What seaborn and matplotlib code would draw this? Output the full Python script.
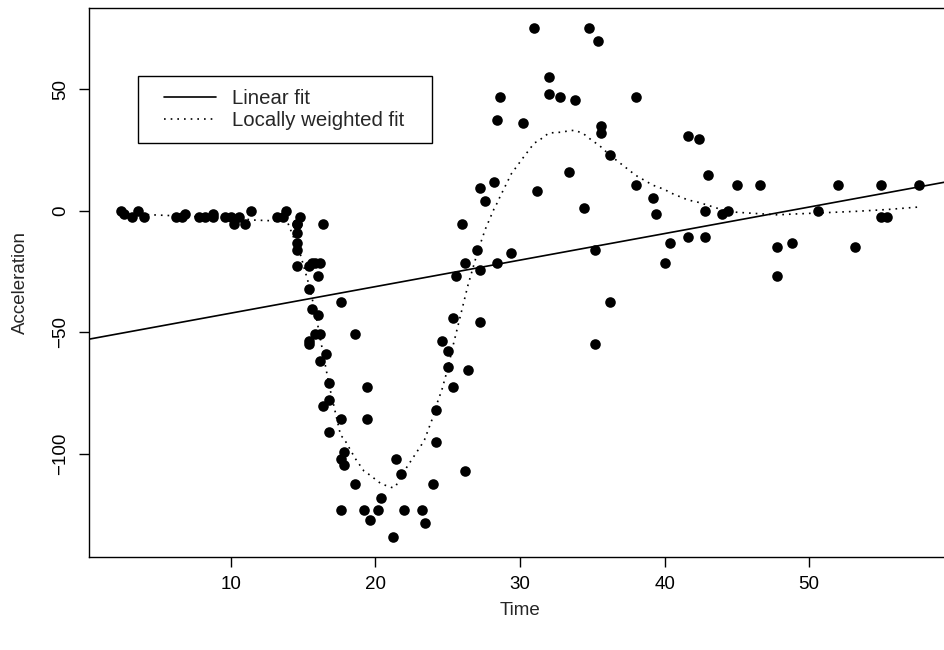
import numpy as np
import pandas as pd
import matplotlib
matplotlib.use('Agg')
import matplotlib.pyplot as plt
from matplotlib.lines import Line2D
from matplotlib.legend_handler import HandlerLine2D
import seaborn as sns

# motorcycle crash data (times in ms, head acceleration in g)
times = [2.4, 2.6, 3.2, 3.6, 4.0, 6.2, 6.6, 6.8, 7.8, 8.2,
         8.8, 8.8, 9.6, 10.0, 10.2, 10.6, 11.0, 11.4, 13.2, 13.6,
         13.8, 14.6, 14.6, 14.6, 14.6, 14.6, 14.6, 14.8, 15.4, 15.4,
         15.4, 15.4, 15.6, 15.6, 15.8, 15.8, 16.0, 16.0, 16.2, 16.2,
         16.2, 16.4, 16.4, 16.6, 16.8, 16.8, 16.8, 17.6, 17.6, 17.6,
         17.6, 17.8, 17.8, 18.6, 18.6, 19.2, 19.4, 19.4, 19.6, 20.2,
         20.4, 21.2, 21.4, 21.8, 22.0, 23.2, 23.4, 24.0, 24.2, 24.2,
         24.6, 25.0, 25.0, 25.4, 25.4, 25.6, 26.0, 26.2, 26.2, 26.4,
         27.0, 27.2, 27.2, 27.2, 27.6, 28.2, 28.4, 28.4, 28.6, 29.4,
         30.2, 31.0, 31.2, 32.0, 32.0, 32.8, 33.4, 33.8, 34.4, 34.8,
         35.2, 35.2, 35.4, 35.6, 35.6, 36.2, 36.2, 38.0, 38.0, 39.2,
         39.4, 40.0, 40.4, 41.6, 41.6, 42.4, 42.8, 42.8, 43.0, 44.0,
         44.4, 45.0, 46.6, 47.8, 47.8, 48.8, 50.6, 52.0, 53.2, 55.0,
         55.0, 55.4, 57.6]
accel = [0.0, -1.3, -2.7, 0.0, -2.7, -2.7, -2.7, -1.3, -2.7, -2.7,
         -1.3, -2.7, -2.7, -2.7, -5.4, -2.7, -5.4, 0.0, -2.7, -2.7,
         0.0, -13.3, -5.4, -5.4, -9.3, -16.0, -22.8, -2.7, -22.8, -32.1,
         -53.5, -54.9, -40.2, -21.5, -21.5, -50.8, -42.9, -26.8, -21.5, -50.8,
         -61.7, -5.4, -80.4, -59.0, -71.0, -91.1, -77.7, -37.5, -85.6, -123.1,
         -101.9, -99.1, -104.4, -112.5, -50.8, -123.1, -85.6, -72.3, -127.2, -123.1,
         -117.9, -134.0, -101.9, -108.4, -123.1, -123.1, -128.5, -112.5, -95.1, -81.8,
         -53.5, -64.4, -57.6, -72.3, -44.3, -26.8, -5.4, -107.1, -21.5, -65.6,
         -16.0, -45.6, -24.2, 9.5, 4.0, 12.0, -21.5, 37.5, 46.9, -17.4,
         36.2, 75.0, 8.1, 54.9, 48.2, 46.9, 16.0, 45.6, 1.3, 75.0,
         -16.0, -54.9, 69.6, 34.8, 32.1, -37.5, 22.8, 46.9, 10.7, 5.4,
         -1.3, -21.5, -13.3, 30.8, -10.7, 29.4, 0.0, -10.7, 14.7, -1.3,
         0.0, 10.7, 10.7, -26.8, -14.7, -13.3, 0.0, 10.7, -14.7, -2.7,
         10.7, -2.7, 10.7]

x_ticks = [10, 20, 30, 40, 50]
y_ticks = [50, 0, -50, -100]
smooth_span = 0.2


def lowess(x, y, f=2/3, iters=3):
    # plain version of R's lowess (no delta shortcut)
    x = np.asarray(x, float)
    y = np.asarray(y, float)
    n = len(x)
    ns = max(2, min(n, int(f * n + 1e-7)))
    rw = np.ones(n)
    fit = np.zeros(n)
    for it in range(iters + 1):
        for i in range(n):
            d = np.abs(x - x[i])
            h = np.sort(d)[ns - 1]
            if h > 0:
                u = d / h
                w = np.where(u < 1, (1 - u ** 3) ** 3, 0.0)
            else:
                w = (d == 0).astype(float)
            w = w * rw
            sw = w.sum()
            xm = (w * x).sum() / sw
            ym = (w * y).sum() / sw
            sxx = (w * (x - xm) ** 2).sum()
            if sxx > 1e-12 * (x.max() - x.min()) ** 2:
                b = (w * (x - xm) * (y - ym)).sum() / sxx
            else:
                b = 0.0
            fit[i] = ym + b * (x[i] - xm)
        if it == iters:
            break
        res = y - fit
        s = np.median(np.abs(res))
        if s == 0:
            break
        u = res / (6 * s)
        rw = np.where(np.abs(u) < 1, (1 - u ** 2) ** 2, 0.0)
    return x, fit


df = pd.DataFrame({'times': times, 'accel': accel})
order = np.argsort(df['times'].values, kind='stable')
lx, ly = lowess(df['times'].values[order], df['accel'].values[order], f=smooth_span)
slope, intercept = np.polyfit(df['times'], df['accel'], 1)

sns.set_style('ticks')
plt.rcParams['font.family'] = ['Liberation Sans', 'DejaVu Sans']
fs = 13.5
fs_leg = 14.7

fig = plt.figure(figsize=(9.45, 6.5), dpi=100)
ax = fig.add_axes([89 / 945, 1 - 557 / 650, 862 / 945, 549 / 650])

sns.scatterplot(data=df, x='times', y='accel', ax=ax, color='black',
                s=58, edgecolor='black', linewidth=0, zorder=3)
ax.axline((0, intercept), slope=slope, color='black', lw=1.2,
          label='Linear fit')
sns.lineplot(x=lx, y=ly, ax=ax, color='black', lw=1.2, estimator=None,
             sort=False, linestyle=(0, (1, 3)), label='Locally weighted fit')

xr = max(times) - min(times)
yr = max(accel) - min(accel)
ax.set_xlim(min(times) - 0.04 * xr, max(times) + 0.04 * xr)
ax.set_ylim(min(accel) - 0.04 * yr, max(accel) + 0.04 * yr)
ax.set_xticks(x_ticks)
ax.set_yticks(y_ticks)
ax.set_yticklabels([str(v).replace('-', '\u2212') for v in y_ticks],
                   rotation=90, va='center')
ax.tick_params(direction='out', length=7, width=1, labelsize=fs,
               color='black', labelcolor='black', pad=7)
for sp in ax.spines.values():
    sp.set_color('black')
    sp.set_linewidth(1)

ax.set_xlabel('Time', fontsize=fs, labelpad=6)
ax.set_ylabel('Acceleration', fontsize=fs, labelpad=17)

leg = ax.legend(loc='upper left',
                bbox_to_anchor=(49 / 862, 1 - 68 / 549, 294 / 862, 0),
                mode='expand', borderaxespad=0, fontsize=fs_leg,
                frameon=True, fancybox=False, edgecolor='black',
                framealpha=1, handlelength=3.2, handletextpad=0.78,
                labelspacing=0.18, borderpad=0.62,
                handler_map={Line2D: HandlerLine2D(xpad=0.64)})
leg.get_frame().set_linewidth(1)

fig.savefig('out.png', dpi=100)
